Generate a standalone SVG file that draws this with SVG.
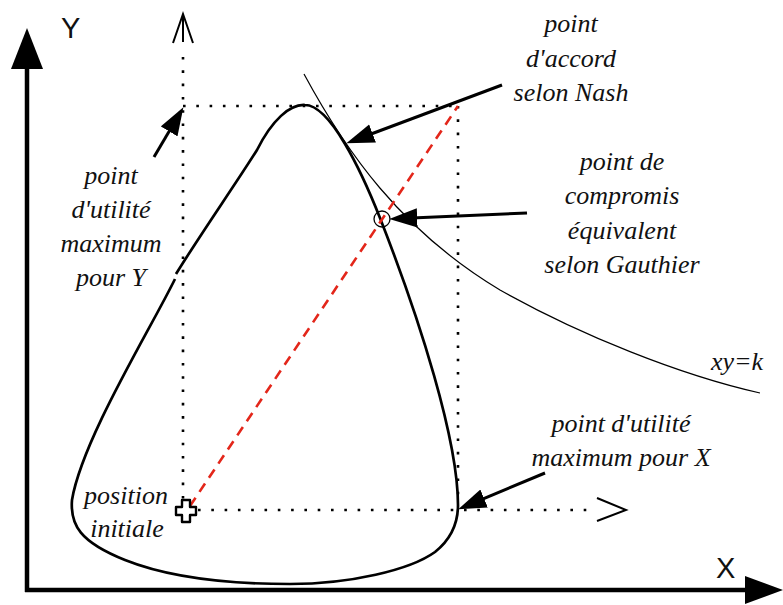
<svg xmlns="http://www.w3.org/2000/svg" width="783" height="605" viewBox="0 0 783 605">
<style>
.lbl{font-family:"Liberation Serif","Times New Roman",serif;font-style:italic;font-size:26px;fill:#111;text-anchor:middle}
.ax{font-family:"Liberation Sans",Arial,sans-serif;font-size:29px;fill:#111}
.dot{fill:none;stroke:#000;stroke-width:2.6;stroke-dasharray:2.6 10.7}
.arr{fill:none;stroke:#000;stroke-width:3;marker-end:url(#head)}
.open{fill:none;stroke:#000;stroke-width:2}
</style>
<defs>
<marker id="head" markerUnits="userSpaceOnUse" markerWidth="28" markerHeight="20" viewBox="0 0 26 18" refX="16" refY="9" orient="auto">
<path d="M0,0 L26,9 L0,18 z" fill="#000"/>
</marker>
</defs>
<rect width="783" height="605" fill="#fff"/>
<g id="axes">
<line x1="27" y1="592" x2="27" y2="66" stroke="#000" stroke-width="4.5"/>
<polygon points="27,28 11,69 43,69" fill="#000"/>
<line x1="25" y1="590" x2="748" y2="590" stroke="#000" stroke-width="4.5"/>
<polygon points="783,590 745,576 745,604" fill="#000"/>
<text class="ax" x="61" y="38">Y</text>
<text class="ax" x="716" y="578">X</text>
</g>
<g id="guides">
<line class="dot" x1="183" y1="57" x2="183" y2="505"/>
<line class="dot" x1="183" y1="106" x2="458" y2="106"/>
<line class="dot" x1="458" y1="106" x2="458" y2="505"/>
<line class="dot" x1="198" y1="510" x2="592" y2="510"/>
<line class="open" x1="183" y1="14" x2="183" y2="42"/>
<polyline class="open" points="173,43 183,14 193,43"/>
<polyline class="open" points="597,498 626,510 597,521"/>
</g>
<g id="hyperbola">
<path d="M304,74 C345,150 400,230 500,290 C580,335 680,375 760,393" fill="none" stroke="#000" stroke-width="1.2"/>
</g>
<g id="region">
<path d="M175,279 C150,330 82,440 72,500 C70,525 80,542 125,560 C170,578 230,584 290,584 C350,584 410,570 435,552 C450,540 458,525 458,505 C458,440 420,320 380,218 C361,170 330,105 305,105 C290,104 272,120 257,150 C235,185 200,235 176,274" fill="none" stroke="#000" stroke-width="2.7"/>
</g>
<g id="diagonal">
<line x1="190" y1="506" x2="458" y2="106" stroke="#e3261a" stroke-width="2.6" stroke-dasharray="10 7"/>
</g>
<g id="gauthier-point">
<circle cx="382" cy="219" r="8" fill="none" stroke="#000" stroke-width="1.3"/>
</g>
<g id="initial-position">
<path d="M182,500 h8 v7 h6 v8 h-6 v7 h-8 v-7 h-6 v-8 h6 z" fill="#fff" stroke="#000" stroke-width="2.4" stroke-linejoin="round"/>
</g>
<g id="connectors">
<line class="arr" x1="502" y1="85" x2="356.4" y2="139.5"/>
<line class="arr" x1="527" y1="213" x2="400" y2="218.6"/>
<line class="arr" x1="154" y1="157" x2="177.9" y2="116.6"/>
<line class="arr" x1="545" y1="473" x2="468.2" y2="505.1"/>
</g>
<g id="label-nash">
<text class="lbl" x="571" y="32">point</text>
<text class="lbl" x="571" y="67">d'accord</text>
<text class="lbl" x="571" y="101">selon Nash</text>
</g>
<g id="label-gauthier">
<text class="lbl" x="622" y="170">point de</text>
<text class="lbl" x="622" y="204">compromis</text>
<text class="lbl" x="622" y="239">équivalent</text>
<text class="lbl" x="622" y="273">selon Gauthier</text>
</g>
<g id="label-maxY">
<text class="lbl" x="111" y="184">point</text>
<text class="lbl" x="111" y="218">d'utilité</text>
<text class="lbl" x="111" y="252">maximum</text>
<text class="lbl" x="111" y="286">pour Y</text>
</g>
<g id="label-maxX">
<text class="lbl" x="621" y="432">point d'utilité</text>
<text class="lbl" x="621" y="466">maximum pour X</text>
</g>
<g id="label-initial">
<text class="lbl" x="126" y="504">position</text>
<text class="lbl" x="127" y="537">initiale</text>
</g>
<g id="label-k">
<text class="lbl" x="737" y="370">xy=k</text>
</g>
</svg>
